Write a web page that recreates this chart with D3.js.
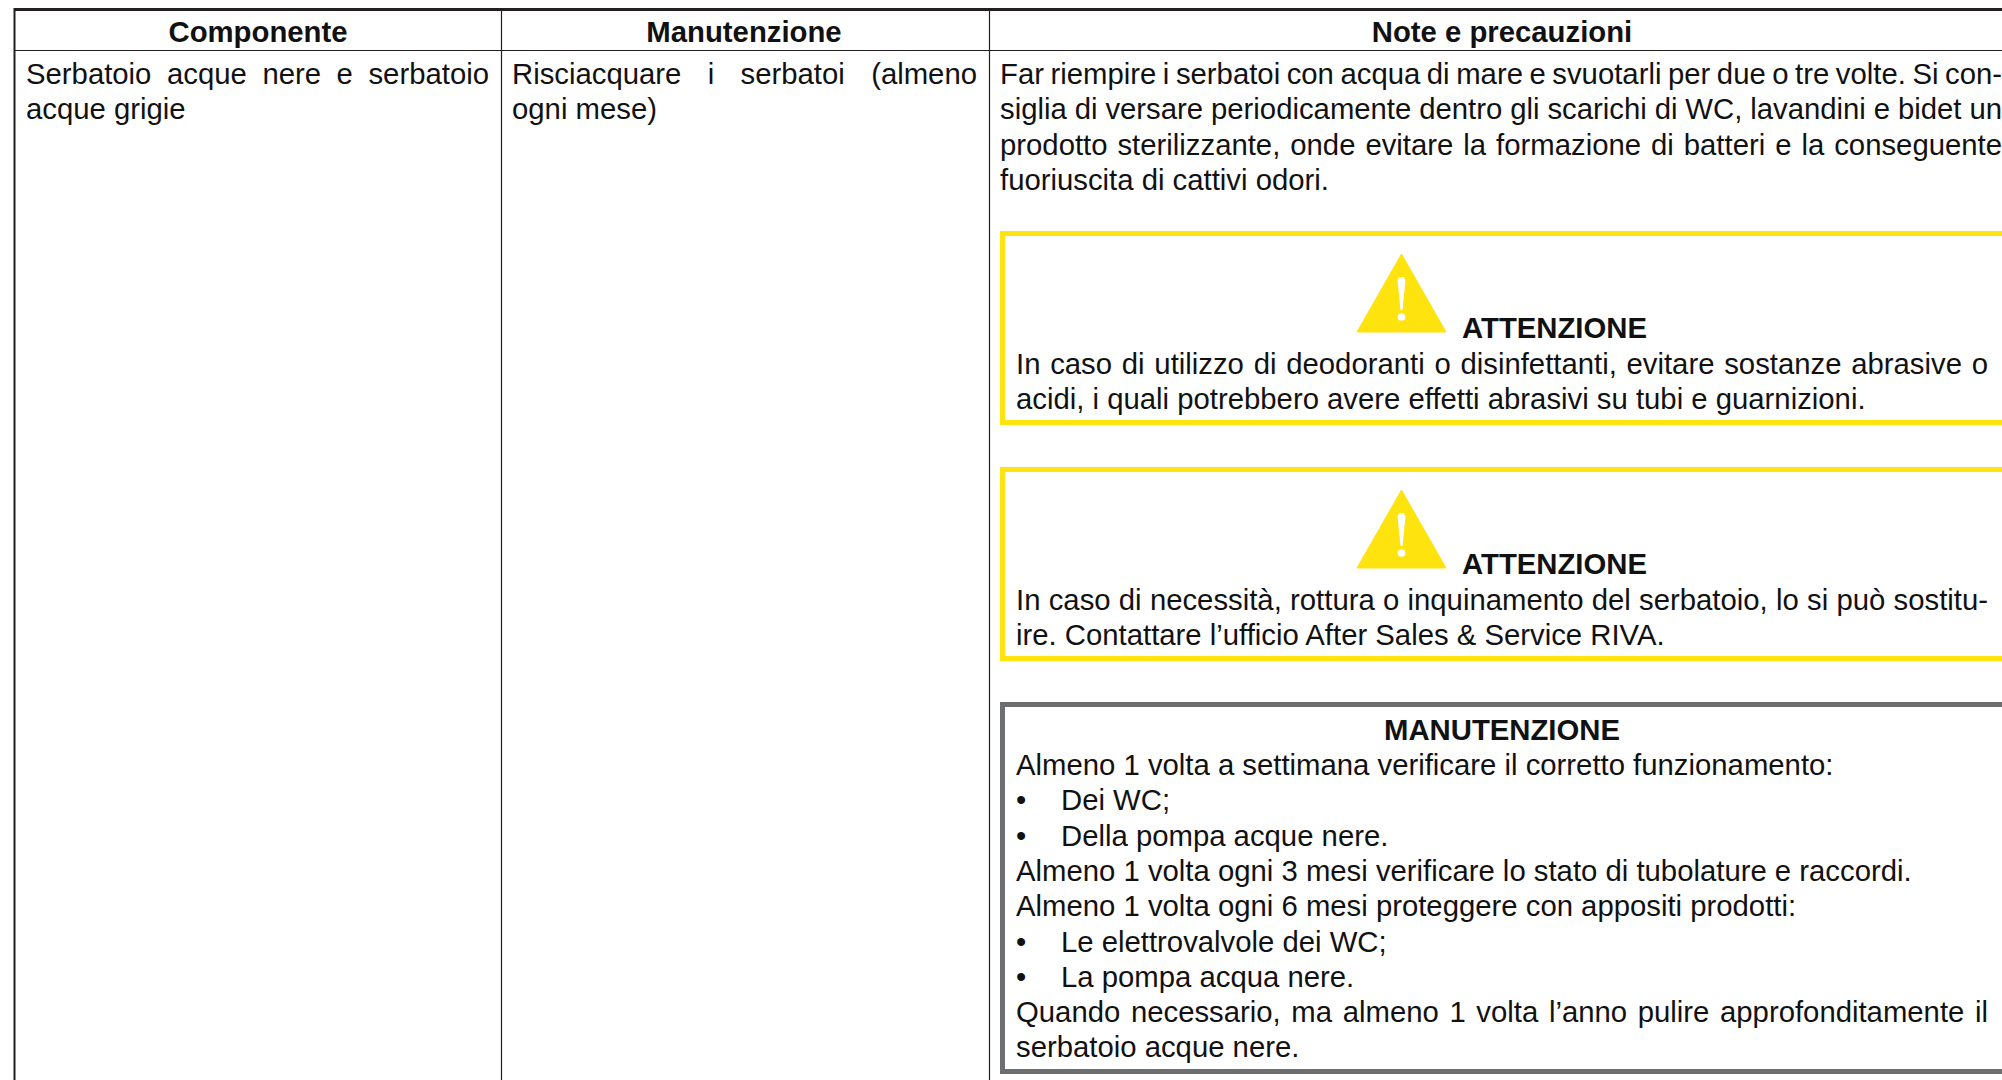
<!DOCTYPE html>
<html>
<head>
<meta charset="utf-8">
<script src="https://cdnjs.cloudflare.com/ajax/libs/d3/7.8.5/d3.min.js"></script>
<style>
  html, body { margin: 0; padding: 0; background: #fff; overflow: hidden; }
  text { font-family: "Liberation Sans", Arial, sans-serif; fill: #111; }
</style>
</head>
<body>
<div class="chart"></div>
<script>
// table content
var headers = ["Componente", "Manutenzione", "Note e precauzioni"];
var componentLines = ["Serbatoio acque nere e serbatoio", "acque grigie"];
var maintenanceLines = ["Risciacquare i serbatoi (almeno", "ogni mese)"];
var noteLines = [
  "Far riempire i serbatoi con acqua di mare e svuotarli per due o tre volte. Si con-",
  "siglia di versare periodicamente dentro gli scarichi di WC, lavandini e bidet un",
  "prodotto sterilizzante, onde evitare la formazione di batteri e la conseguente",
  "fuoriuscita di cattivi odori."
];
var warningTitle = "ATTENZIONE";
var warningOneLines = [
  "In caso di utilizzo di deodoranti o disinfettanti, evitare sostanze abrasive o",
  "acidi, i quali potrebbero avere effetti abrasivi su tubi e guarnizioni."
];
var warningTwoLines = [
  "In caso di necessità, rottura o inquinamento del serbatoio, lo si può sostitu-",
  "ire. Contattare l’ufficio After Sales & Service RIVA."
];
var serviceTitle = "MANUTENZIONE";
var serviceLines = [
  "Almeno 1 volta a settimana verificare il corretto funzionamento:",
  "•\tDei WC;",
  "•\tDella pompa acque nere.",
  "Almeno 1 volta ogni 3 mesi verificare lo stato di tubolature e raccordi.",
  "Almeno 1 volta ogni 6 mesi proteggere con appositi prodotti:",
  "•\tLe elettrovalvole dei WC;",
  "•\tLa pompa acqua nere.",
  "Quando necessario, ma almeno 1 volta l’anno pulire approfonditamente il",
  "serbatoio acque nere."
];

var svgWidth = 2002;
var svgHeight = 1080;
var fontSize = 29.3;
var lineStep = 35.3;

var svg = d3.select(".chart")
  .append("svg")
  .attr("width", svgWidth)
  .attr("height", svgHeight)
  .style("display", "block");

// column edges and centres
var colEdge = d3.scaleOrdinal().domain([0, 1, 2]).range([14, 501, 989]);
var colCentre = d3.scaleOrdinal().domain([0, 1, 2]).range([258, 744, 1502]);

function lineY(first) {
  return d3.scaleLinear().domain([0, 1]).range([first, first + lineStep]);
}

// fits a line to the given width by stretching the word gaps
function justify(t, x, right) {
  var gaps = t.text().split(" ").length - 1;
  var extra = (right - x - t.node().getComputedTextLength()) / gaps;
  t.attr("word-spacing", extra);
}

function drawLines(lines, x, firstBaseline, right, justified) {
  var y = lineY(firstBaseline);
  lines.forEach(function(line, i) {
    var parts = line.split("\t");
    if (parts.length > 1) {
      svg.append("text").attr("x", x).attr("y", y(i))
        .attr("font-size", fontSize).text(parts[0]);
      svg.append("text").attr("x", x + 45).attr("y", y(i))
        .attr("font-size", fontSize).text(parts[1]);
      return;
    }
    var t = svg.append("text").attr("x", x).attr("y", y(i))
      .attr("font-size", fontSize).text(line);
    if (justified.indexOf(i) >= 0) justify(t, x, right);
  });
}

function drawBox(x, y0, y1, colour) {
  svg.append("rect")
    .attr("x", x + 2.5).attr("y", y0 + 2.5)
    .attr("width", svgWidth + 20 - x).attr("height", y1 - y0 - 5)
    .attr("fill", "#fff").attr("stroke", colour).attr("stroke-width", 5);
}

function drawWarning(y0, lines) {
  drawBox(1000, y0, y0 + 194, "#ffe30f");
  var apex = y0 + 23, base = y0 + 101;
  var tri = d3.line();
  svg.append("path")
    .attr("d", tri([[1401.5, apex], [1446, base], [1357, base]]) + "Z")
    .attr("fill", "#ffe30f").attr("stroke", "#ffe30f")
    .attr("stroke-width", 1).attr("stroke-linejoin", "round");
  svg.append("path")
    .attr("d", tri([[1397.5, apex + 26], [1399.5, apex + 23], [1403.5, apex + 23], [1405.5, apex + 26], [1402.5, apex + 56], [1400.5, apex + 56]]) + "Z")
    .attr("fill", "#fff");
  svg.append("circle").attr("cx", 1401.5).attr("cy", apex + 63).attr("r", 3.8).attr("fill", "#fff");
  svg.append("text").attr("x", 1462).attr("y", y0 + 107)
    .attr("font-size", fontSize).attr("font-weight", "bold").text(warningTitle);
  drawLines(lines, 1016, y0 + 143, 1988, [0]);
}

// table rules
svg.append("line").attr("x1", 14).attr("x2", svgWidth).attr("y1", 9.5).attr("y2", 9.5)
  .attr("stroke", "#231f20").attr("stroke-width", 3);
svg.append("line").attr("x1", 14).attr("x2", svgWidth).attr("y1", 50.5).attr("y2", 50.5)
  .attr("stroke", "#231f20").attr("stroke-width", 1.2);
headers.forEach(function(h, i) {
  svg.append("line")
    .attr("x1", colEdge(i) + 0.5).attr("x2", colEdge(i) + 0.5)
    .attr("y1", 8).attr("y2", svgHeight)
    .attr("stroke", "#231f20").attr("stroke-width", i == 0 ? 2 : 1.2);
  svg.append("text")
    .attr("x", colCentre(i)).attr("y", 41.5)
    .attr("text-anchor", "middle")
    .attr("font-size", fontSize).attr("font-weight", "bold")
    .text(h);
});

drawLines(componentLines, 26, 84, 489, [0]);
drawLines(maintenanceLines, 512, 84, 977, [0]);
drawLines(noteLines, 1000, 84, 2002, [0, 1, 2]);

drawWarning(231, warningOneLines);
drawWarning(467, warningTwoLines);

drawBox(1000, 702, 1074, "#6d6e70");
svg.append("text").attr("x", colCentre(2)).attr("y", 740)
  .attr("text-anchor", "middle")
  .attr("font-size", fontSize).attr("font-weight", "bold").text(serviceTitle);
drawLines(serviceLines, 1016, 775, 1988, [7]);
</script>
</body>
</html>
